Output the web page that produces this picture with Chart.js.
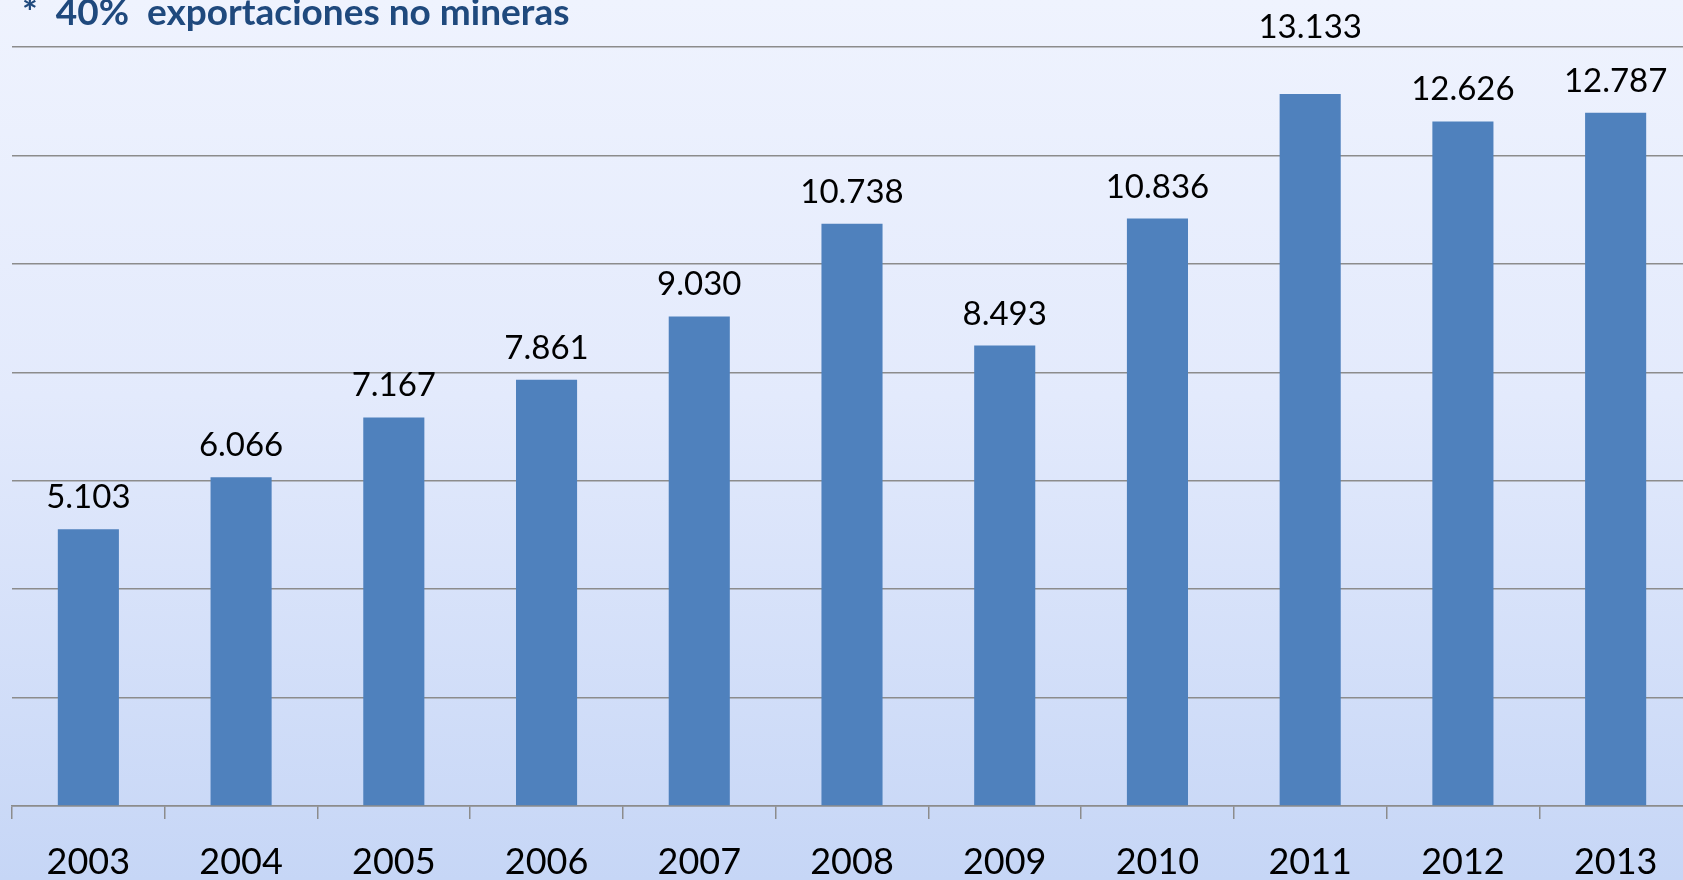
<!DOCTYPE html>
<html>
<head>
<meta charset="utf-8">
<script src="https://cdn.jsdelivr.net/npm/chart.js@4.4.0/dist/chart.umd.min.js"></script>
<style>
  html, body { margin: 0; padding: 0; overflow: hidden; }
  body {
    width: 1683px; height: 880px;
    background: linear-gradient(to bottom, #eff3fe 0%, #e3eafc 45%, #c6d6f6 100%);
  }
  #wrap { position: absolute; left: 0; top: 0; width: 1700px; height: 880px; }
  canvas { display: block; }
</style>
</head>
<body>
<div id="wrap"><canvas id="exportChart" width="1700" height="880"></canvas></div>
<script>
let years = ["2003", "2004", "2005", "2006", "2007", "2008", "2009", "2010", "2011", "2012", "2013"];
let exportValues = [5103, 6066, 7167, 7861, 9030, 10738, 8493, 10836, 13133, 12626, 12787];
let titleText = "*  40%  exportaciones no mineras";

function formatMiles(v) {
  let s = String(Math.round(v));
  let out = '';
  while (s.length > 3) {
    out = '.' + s.slice(-3) + out;
    s = s.slice(0, -3);
  }
  return s + out;
}

// numbers above the bars + title in the corner
let labelPlugin = {
  id: 'barLabels',
  afterDatasetsDraw(chart) {
    let ctx = chart.ctx;
    let meta = chart.getDatasetMeta(0);
    let top = chart.chartArea.top;
    ctx.save();
    ctx.font = '33px Lato';
    ctx.fillStyle = '#000';
    ctx.textAlign = 'center';
    ctx.textBaseline = 'alphabetic';
    meta.data.forEach(function (bar, i) {
      let y = bar.y - 21;
      // label would sit on the top gridline -> lift it above
      if (y - 24 < top + 4) y = top - 9;
      ctx.fillText(formatMiles(exportValues[i]), bar.x, y);
    });
    ctx.font = 'bold 37px Lato';
    ctx.fillStyle = '#1f497d';
    ctx.textAlign = 'left';
    ctx.fillText(titleText, 22, 25);
    ctx.restore();
  }
};

let ctx = document.getElementById('exportChart').getContext('2d');

let exportChart = new Chart(ctx, {
  type: 'bar',
  data: {
    labels: years,
    datasets: [{
      data: exportValues,
      backgroundColor: '#4f81bd',
      borderWidth: 0,
      barPercentage: 0.4,
      categoryPercentage: 1
    }]
  },
  options: {
    responsive: false,
    animation: false,
    devicePixelRatio: 1,
    layout: { padding: { left: 12, right: 8, top: 47, bottom: 0 } },
    plugins: {
      legend: { display: false },
      tooltip: { enabled: false }
    },
    scales: {
      x: {
        grid: {
          display: true,
          drawOnChartArea: false,
          drawTicks: true,
          tickLength: 13,
          color: '#8c8c8c',
          lineWidth: 1.5
        },
        border: { display: true, color: '#8c8c8c', width: 1.5 },
        ticks: {
          color: '#000',
          font: { family: 'Lato', size: 36 },
          padding: 22,
          maxRotation: 0,
          autoSkip: false
        },
        afterFit: function (scale) { scale.height = 74; }
      },
      y: {
        min: 0,
        max: 14000,
        ticks: { display: false, stepSize: 2000 },
        grid: {
          color: '#8c8c8c',
          lineWidth: 1.5,
          drawTicks: false
        },
        border: { display: false },
        afterFit: function (scale) { scale.width = 0; }
      }
    }
  },
  plugins: [labelPlugin]
});
</script>
</body>
</html>
